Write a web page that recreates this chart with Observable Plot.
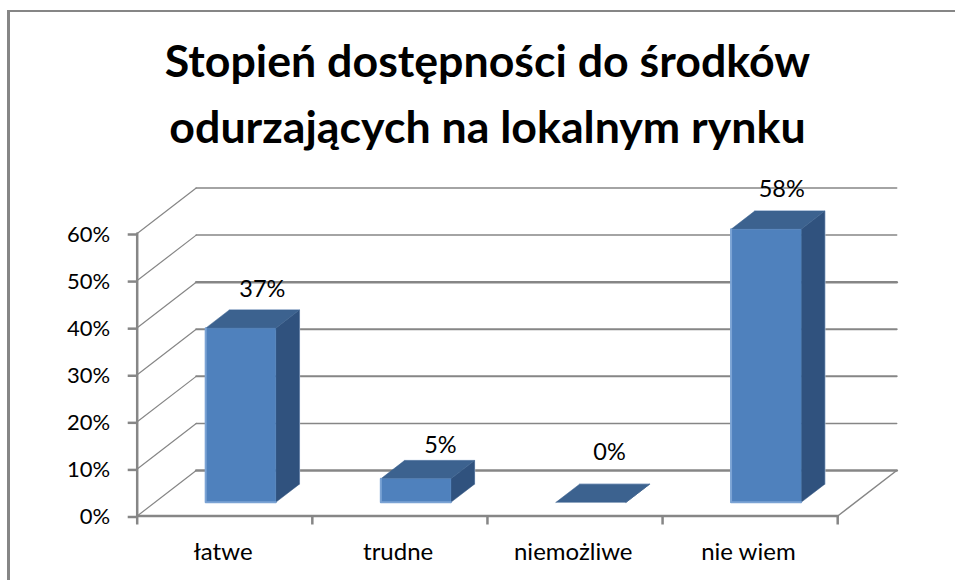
<!DOCTYPE html>
<html lang="pl">
<head>
<meta charset="utf-8">
<script src="https://cdn.jsdelivr.net/npm/d3@7"></script>
<script src="https://cdn.jsdelivr.net/npm/@observablehq/plot@0.6"></script>
<style>
  html, body { margin: 0; padding: 0; background: #fff; overflow: hidden; width: 955px; height: 580px; }
  #frame { position: absolute; left: 7px; top: 10px; width: 960px; height: 580px; border-left: 3px solid #868686; border-top: 2px solid #868686; pointer-events: none; }
  #title { height: 170px; box-sizing: border-box; padding-top: 27px; text-align: center; font: 700 44.7px/66px Lato, sans-serif; color: #000; width: 975px; white-space: nowrap; }
  #chart svg { display: block; }
</style>
</head>
<body>
<div id="frame"></div>
<div id="title">Stopień dostępności do środków<br>odurzających na lokalnym rynku</div>
<div id="chart"></div>
<script>
const categories = ["łatwe", "trudne", "niemożliwe", "nie wiem"];
const values = [37, 5, 0, 58];
const yTicks = [0, 10, 20, 30, 40, 50, 60];
const xTicks = [0, 1, 2, 3, 4];

// Oblique projection of the 3-D chart box, expressed in scale units
const depthX = 0.337, depthY = 9.66;
const slotInset = 0.29, barWidth = 0.4, barFront = 0.3, barBack = 0.7;
const P = (c, v, d) => ({x: c + d * depthX, y: v + d * depthY});
const tag = (id, pts) => pts.map(p => ({...p, id}));

const gridColor = "#868686";
const backWidth = v => (v === 0 || v === 40 ? 2.6 : v === 30 || v === 20 ? 2 : 1.5);

const sideGrid = yTicks.flatMap(v => tag(v, [P(0, v, 0), P(0, v, 1)]));
const backGrid = yTicks.flatMap(v => tag(v, [P(0, v, 1), P(4, v, 1)]));
const floorEdges = [...tag("front", [P(0, 0, 0), P(4, 0, 0)])];
const floorRight = tag("right", [P(4, 0, 0), P(4, 0, 1)]);
const valueAxis = tag("axis", [P(0, 0, 0), P(0, 60, 0)]);

const faces = {front: [], side: [], top: [], lit: [], rim: []};
values.forEach((v, i) => {
  const a = i + slotInset, b = a + barWidth;
  faces.side.push(...tag(i, [P(b, 0, barFront), P(b, 0, barBack), P(b, v, barBack), P(b, v, barFront), P(b, 0, barFront)]));
  faces.top.push(...tag(i, [P(a, v, barFront), P(b, v, barFront), P(b, v, barBack), P(a, v, barBack), P(a, v, barFront)]));
  if (v > 0) faces.front.push(...tag(i, [P(a, 0, barFront), P(b, 0, barFront), P(b, v, barFront), P(a, v, barFront), P(a, 0, barFront)]));
  faces.lit.push(...tag(i, [P(a, v, barFront), P(a, 0, barFront), P(b, 0, barFront)]));
  faces.rim.push(...tag(i, [P(a, v, barBack), P(b, v, barBack), P(b, 0, barBack)]));
});

// Hand placement of the data labels relative to the back top edge of each bar
const labelNudge = [[-2, -20], [1, -15], [-5, -32], [-8, -22]];

const chart = Plot.plot({
  width: 955, height: 410,
  marginLeft: 136.7, marginRight: 117.8, marginTop: 63, marginBottom: 64.5,
  x: {type: "linear", domain: [0, 4], axis: null},
  y: {type: "linear", domain: [0, 60], axis: null},
  style: {background: "transparent", fontFamily: "Lato, sans-serif", color: "#000", overflow: "visible"},
  marks: [
    Plot.line(sideGrid, {x: "x", y: "y", z: "id", stroke: gridColor, strokeWidth: 1.2}),
    Plot.line(backGrid, {x: "x", y: "y", z: "id", stroke: gridColor, strokeWidth: d => backWidth(d.id)}),
    Plot.line(floorRight, {x: "x", y: "y", z: "id", stroke: gridColor, strokeWidth: 1.5}),
    Plot.line(faces.rim, {x: "x", y: "y", z: "id", stroke: "#c5d5ea", strokeWidth: 1.5}),
    Plot.line(faces.side, {x: "x", y: "y", z: "id", fill: "#30527e", stroke: "#30527e", strokeWidth: 0.5}),
    Plot.line(faces.top, {x: "x", y: "y", z: "id", fill: "#3c628f", stroke: "#3c628f", strokeWidth: 0.5}),
    Plot.line(faces.front, {x: "x", y: "y", z: "id", fill: "#4f81bd", stroke: "#4f81bd", strokeWidth: 0.5}),
    Plot.line(faces.lit.filter(d => d.id !== 2), {x: "x", y: "y", z: "id", stroke: "#7ba3d4", strokeWidth: 2}),
    Plot.line(floorEdges, {x: "x", y: "y", z: "id", stroke: gridColor, strokeWidth: 2.5}),
    Plot.line(valueAxis, {x: "x", y: "y", z: "id", stroke: gridColor, strokeWidth: 2.5}),
    Plot.axisY({ticks: yTicks, tickSize: 9, tickPadding: 18, tickFormat: d => d + "%", label: null, fontSize: 22, fill: "#000", stroke: gridColor, strokeWidth: 2.5, dy: 1}),
    Plot.axisX({ticks: xTicks, tickSize: 9, tickFormat: () => "", label: null, stroke: gridColor, strokeWidth: 2.5}),
    Plot.text(categories, {x: (d, i) => i + 0.49, y: 0, text: d => d, dy: 36, fontSize: 24, fill: "#000"}),
    ...values.map((v, i) => {
      const p = P(i + slotInset + barWidth / 2, v, barBack);
      return Plot.text([v], {x: () => p.x, y: () => p.y, text: d => d + "%", dx: labelNudge[i][0], dy: labelNudge[i][1], fontSize: 23.5, fill: "#000"});
    })
  ]
});
document.getElementById("chart").append(chart);
</script>
</body>
</html>
